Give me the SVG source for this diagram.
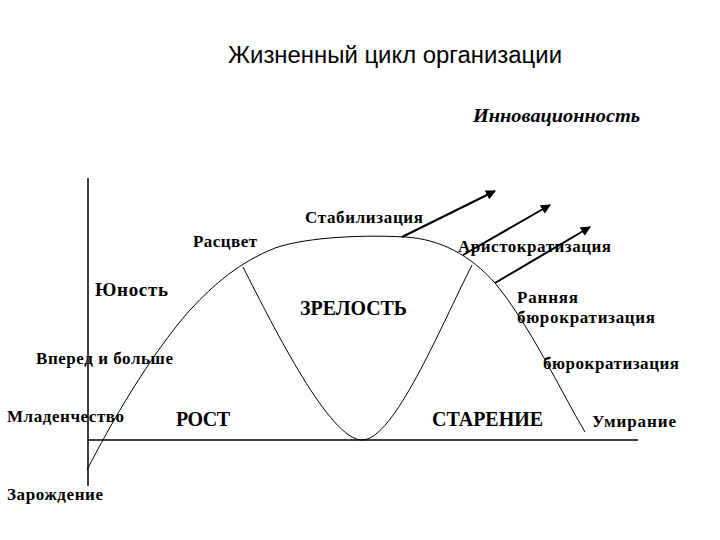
<svg xmlns="http://www.w3.org/2000/svg" width="720" height="540" viewBox="0 0 720 540">
<style>
.lbl{font-family:"Liberation Serif","Times New Roman",serif;font-weight:bold;font-size:17px;fill:#000}
.big{font-size:20px}
.ttl{font-family:"Liberation Sans",Arial,sans-serif;font-size:23px;fill:#000}
.inn{font-style:italic;font-size:19px}
.axis{stroke:#000;stroke-width:1.5;fill:none}
.curve{stroke:#000;stroke-width:1;fill:none}
.arr{stroke:#000;stroke-width:2;fill:none;marker-end:url(#ah)}
</style>
<defs>
<marker id="ah" viewBox="0 0 10 10" refX="9" refY="5" markerWidth="5" markerHeight="5" orient="auto" markerUnits="strokeWidth">
<path d="M0,0 L10,5 L0,10 z" fill="#000"/>
</marker>
</defs>
<rect width="720" height="540" fill="#fff"/>
<g id="connectors">
<line class="axis" x1="88" y1="178" x2="88" y2="486"/>
<line class="axis" x1="88" y1="440" x2="638" y2="440"/>
<path class="curve" d="M87,470 C110,425 150,355 190,310 C215,283 240,262 275,248 C310,236 370,235 405,237 C440,239 470,255 495,283 C530,325 560,390 585,432"/>
<path class="curve" d="M243,267 C275,330 330,440 362,440 C394,440 440,328 472,265"/>
<line class="arr" x1="402" y1="237" x2="495" y2="191"/>
<line class="arr" x1="463" y1="255" x2="550" y2="205"/>
<line class="arr" x1="495" y1="283" x2="590" y2="227"/>
</g>
<g id="title"><text class="ttl" x="228" y="63" textLength="334" lengthAdjust="spacingAndGlyphs">Жизненный цикл организации</text></g>
<g id="innovation"><text class="lbl inn" x="473" y="122" textLength="167" lengthAdjust="spacingAndGlyphs">Инновационность</text></g>
<g id="stabilization"><text class="lbl" x="305" y="223" textLength="118">Стабилизация</text></g>
<g id="flourish"><text class="lbl" x="193" y="247" textLength="64">Расцвет</text></g>
<g id="aristocratization"><text class="lbl" x="458" y="252" textLength="153">Аристократизация</text></g>
<g id="youth"><text class="lbl" x="95" y="296" textLength="73" style="font-size:19px">Юность</text></g>
<g id="maturity"><text class="lbl big" x="300" y="315" textLength="107" lengthAdjust="spacingAndGlyphs">ЗРЕЛОСТЬ</text></g>
<g id="early-bureaucratization"><text class="lbl" x="517" y="303" textLength="61">Ранняя</text><text class="lbl" x="517" y="323" textLength="138">бюрократизация</text></g>
<g id="go-go"><text class="lbl" x="36" y="364" textLength="137">Вперед и больше</text></g>
<g id="bureaucratization"><text class="lbl" x="543" y="369" textLength="136">бюрократизация</text></g>
<g id="infancy"><text class="lbl" x="7" y="422" textLength="117">Младенчество</text></g>
<g id="growth"><text class="lbl big" x="176" y="426" textLength="54">РОСТ</text></g>
<g id="aging"><text class="lbl big" x="432" y="426" textLength="111" lengthAdjust="spacingAndGlyphs">СТАРЕНИЕ</text></g>
<g id="death"><text class="lbl" x="592" y="427" textLength="84">Умирание</text></g>
<g id="birth"><text class="lbl" x="7" y="500" textLength="96">Зарождение</text></g>
</svg>
